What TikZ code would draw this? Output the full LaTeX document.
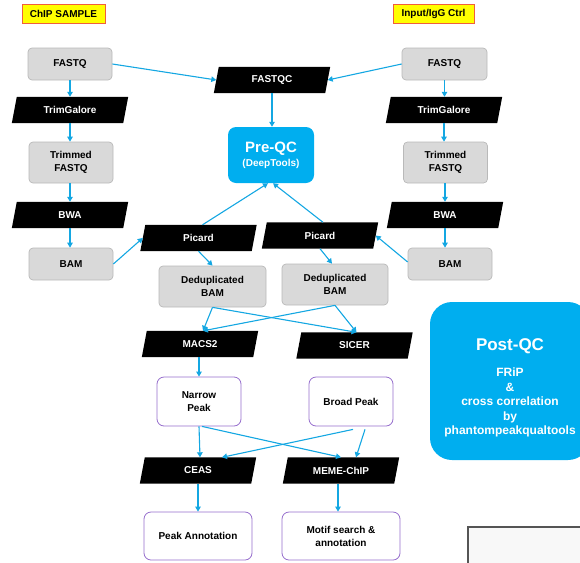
\documentclass[tikz,border=0pt]{standalone}
\usepackage{fontspec}
\setmainfont{Liberation Sans}
\usetikzlibrary{arrows.meta,backgrounds,calc}
\definecolor{cyanfill}{RGB}{0,174,239}
\definecolor{arrowc}{RGB}{20,167,226}
\definecolor{boxgray}{RGB}{217,217,217}
\definecolor{boxborder}{RGB}{185,185,185}
\definecolor{labyellow}{RGB}{255,255,0}
\definecolor{labborder}{RGB}{240,95,60}
\definecolor{purp}{RGB}{150,110,205}
\definecolor{cornerborder}{RGB}{85,85,85}
\definecolor{cornerfill}{RGB}{248,248,248}
\newcommand\lbl{\bfseries\fontsize{10}{13}\selectfont}
\begin{document}
\begin{tikzpicture}[x=1pt,y=-1pt,
  graybox/.style={draw=boxborder, fill=boxgray, rounded corners=4pt, minimum width=84pt, minimum height=32pt, inner sep=0pt, align=center, font=\lbl, line width=0.7pt},
  pg/.style={minimum width=111pt, minimum height=26pt, inner sep=0pt, text=white, font=\lbl},
  purplebox/.style={draw=purp, fill=white, rounded corners=7pt, line width=0.8pt, align=center, inner sep=0pt, font=\lbl},
  samplelabel/.style={draw=labborder, fill=labyellow, line width=1pt, minimum height=19pt, inner sep=0pt, font=\lbl},
  arr/.style={draw=arrowc, line width=1.1pt, -{Triangle[length=5pt,width=5.5pt]}}
]
\useasboundingbox (0,0) rectangle (580,562);
\clip (0,0) rectangle (580,562);

% sample labels
\node[samplelabel, minimum width=83pt] (chip) at (63.5,13.5) {ChIP SAMPLE};
\node[samplelabel, minimum width=81pt] (ctrl) at (433.5,13.5) {Input/IgG Ctrl};

% left column
\node[graybox] (fqL) at (70,64) {FASTQ};
\node[pg] (trimL) at (70,110) {TrimGalore};
\node[graybox, minimum height=41pt] (tfL) at (71,162.5) {Trimmed\\FASTQ};
\node[pg] (bwaL) at (70,215) {BWA};
\node[graybox] (bamL) at (71,264) {BAM};

% right column
\node[graybox, minimum width=85pt] (fqR) at (444.5,64) {FASTQ};
\node[pg] (trimR) at (444,110) {TrimGalore};
\node[graybox, minimum height=41pt] (tfR) at (445.5,162.5) {Trimmed\\FASTQ};
\node[pg] (bwaR) at (445,215) {BWA};
\node[graybox] (bamR) at (450,264) {BAM};

% centre
\node[fill=cyanfill, rounded corners=8pt, minimum width=86pt, minimum height=56pt, inner sep=0pt, align=center, text=white, font=\bfseries\fontsize{10}{14}\selectfont] (preqc) at (271,155)
  {{\fontsize{15}{16}\selectfont Pre-QC}\\(DeepTools)};
\node[pg] (fastqc) at (272,80) {FASTQC};
\node[pg] (picL) at (198.5,238) {Picard};
\node[pg] (picR) at (320,235.5) {Picard};
\node[graybox, minimum width=107pt, minimum height=41pt] (ddL) at (212.5,286.5) {Deduplicated\\BAM};
\node[graybox, minimum width=106pt, minimum height=41pt] (ddR) at (335,284.5) {Deduplicated\\BAM};
\node[pg] (macs) at (200,344) {MACS2};
\node[pg] (sicer) at (354.5,345.5) {SICER};
\node[purplebox, minimum width=84pt, minimum height=49pt] (narrow) at (199,401.5) {Narrow\\Peak};
\node[purplebox, minimum width=84pt, minimum height=49pt] (broad) at (351,401.5) {Broad Peak};
\node[pg] (ceas) at (198,470.5) {CEAS};
\node[pg] (meme) at (341,470.5) {MEME-ChIP};
\node[purplebox, minimum width=108pt, minimum height=48pt] (peakann) at (198,536) {Peak Annotation};
\node[purplebox, minimum width=118pt, minimum height=48pt] (motif) at (341,536) {Motif search \&\\annotation};

% post-QC
\node[fill=cyanfill, rounded corners=22pt, minimum width=160pt, minimum height=158pt, inner sep=0pt] (postqc) at (510,381) {};
\node[text=white, align=center, inner sep=0pt, font=\bfseries\fontsize{12}{14.5}\selectfont] (postqctxt) at (510,388)
  {{\fontsize{17}{18}\selectfont Post-QC}\\[12pt]
   FRiP\\ \&\\ cross correlation\\ by\\ phantompeakqualtools};

% partial box bottom right
\node[draw=cornerborder, fill=cornerfill, line width=1.5pt, minimum width=140pt, minimum height=60pt, inner sep=0pt, anchor=north west] (corner) at (467,526) {};

% parallelogram backgrounds
\begin{scope}[on background layer]
\foreach \n in {trimL,trimR,bwaL,bwaR,fastqc,picL,picR,macs,sicer,ceas,meme}
  \fill[black] ([xshift=2.5pt]\n.north west) -- ([xshift=2.5pt]\n.north east) -- ([xshift=-2.5pt]\n.south east) -- ([xshift=-2.5pt]\n.south west) -- cycle;
\end{scope}

% arrows: columns
\draw[arr] (fqL.south) -- (fqL.south |- trimL.north);
\draw[arr] (trimL.south) -- (trimL.south |- tfL.north);
\draw[arr] (bwaL.south |- tfL.south) -- (bwaL.north);
\draw[arr] (bwaL.south) -- (bwaL.south |- bamL.north);
\draw[arr] (fqR.south) -- (fqR.south |- trimR.north);
\draw[arr] (trimR.south) -- (trimR.south |- tfR.north);
\draw[arr] (bwaR.south |- tfR.south) -- (bwaR.north);
\draw[arr] (bwaR.south) -- (bwaR.south |- bamR.north);

% arrows: QC
\draw[arr] (fqL.east) -- (fastqc.west);
\draw[arr] (fqR.west) -- (fastqc.east);
\draw[arr] (fastqc.south) -- (fastqc.south |- preqc.north);
\draw[arr] ([xshift=4pt]picL.north) -- ([xshift=-3pt]preqc.south);
\draw[arr] ([xshift=3pt]picR.north) -- ([xshift=2pt]preqc.south);
\draw[arr] (bamL.east) -- (picL.west);
\draw[arr] ([yshift=2pt]bamR.west) -- (picR.east);
\draw[arr] (picL.south) -- (ddL.north);
\draw[arr] (picR.south) -- ([xshift=-3pt]ddR.north);

% arrows: peak calling
\draw[arr] (ddL.south) -- ([xshift=3pt]macs.north);
\draw[arr] (ddL.south) -- ([xshift=2pt]sicer.north);
\draw[arr] (ddR.south) -- ([xshift=3pt]macs.north);
\draw[arr] (ddR.south) -- ([xshift=2pt]sicer.north);
\draw[arr] (macs.south -| narrow.north) -- (narrow.north);
\draw[arr] (narrow.south) -- ([xshift=2pt]ceas.north);
\draw[arr] ([xshift=3pt]narrow.south) -- (meme.north);
\draw[arr] ([xshift=2pt,yshift=-3pt]broad.south) -- ([xshift=24pt]ceas.north);
\draw[arr] ([xshift=14pt,yshift=-3pt]broad.south) -- ([xshift=15pt]meme.north);
\draw[arr] (ceas.south) -- (ceas.south |- peakann.north);
\draw[arr] ([xshift=-3pt]meme.south) -- ([xshift=-3pt]meme.south |- motif.north);
\end{tikzpicture}
\end{document}
